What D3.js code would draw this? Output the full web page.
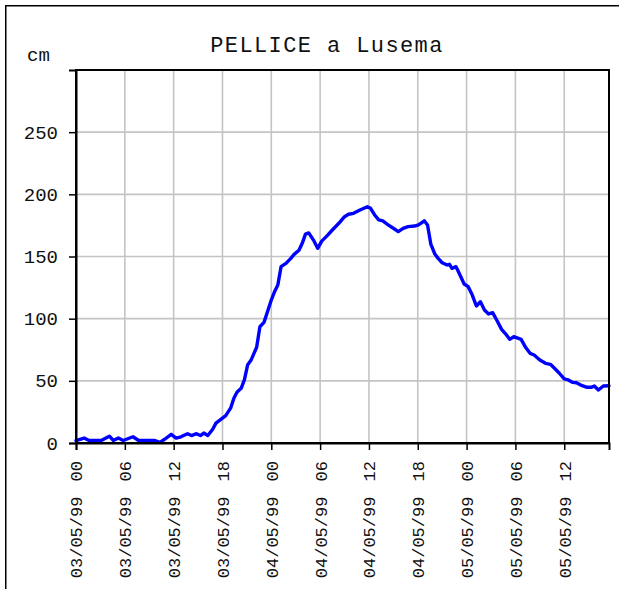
<!DOCTYPE html>
<html>
<head>
<meta charset="utf-8">
<script src="https://cdn.jsdelivr.net/npm/d3@7"></script>
<style>
  body { margin: 0; background: #fff; }
  svg { display: block; }
</style>
</head>
<body>
<svg id="chart" width="619" height="589"></svg>
<script>
// Water level of the Pellice river at Luserna, 3-5 May 1999
const chartTitle = "PELLICE a Lusema";
const unitLabel = "cm";

// hours elapsed since 03/05/99 00:00
const hours = [0, 1, 1.6, 3.1, 4.1, 4.6, 5.2, 5.8, 7.0, 7.7, 9.7, 10.3, 10.9, 11.7, 12.3, 12.9,
  13.7, 14.2, 14.8, 15.3, 15.7, 16.2, 16.8, 17.2, 17.8, 18.4, 19.0, 19.4, 19.8, 20.3, 20.7,
  21.1, 21.5, 22.2, 22.6, 23.1, 23.6, 24.0, 24.4, 24.8, 25.2, 25.8, 26.4, 26.8, 27.4, 27.8,
  28.2, 28.6, 29.2, 29.7, 30.2, 30.9, 31.5, 32.3, 33.0, 33.5, 34.1, 34.9, 35.8, 36.2, 36.7,
  37.2, 37.7, 38.4, 39.0, 39.6, 40.2, 40.8, 41.6, 42.1, 42.8, 43.2, 43.6, 44.1, 44.5, 45.0,
  45.6, 45.9, 46.2, 46.7, 47.0, 47.7, 48.2, 48.7, 49.2, 49.7, 50.2, 50.7, 51.2, 51.7, 52.3,
  52.9, 53.3, 53.8, 54.7, 55.2, 55.8, 56.3, 57.0, 57.7, 58.3, 58.8, 59.4, 60.0, 60.5, 61.0,
  61.5, 62.2, 62.8, 63.3, 63.7, 64.2, 64.8, 65.5];

// level in cm
const levels = [2, 4, 2, 2, 5.5, 2, 4, 2, 5, 2, 2, 0.5, 3, 7, 4, 5,
  7.5, 6, 7.5, 6, 8, 6, 11, 16, 19, 22, 28, 36, 41, 44, 51,
  63, 66.5, 77, 93.5, 97, 107, 115, 121.7, 127, 141.8, 144.5, 148.5, 151.7, 155, 160.6,
  168, 169, 163, 156.6, 162.4, 167, 171.3, 176.7, 182, 184, 184.7, 187.4, 190, 188.8, 183.4,
  179.4, 178.6, 175.3, 172.7, 170, 172.7, 174, 174.5, 175.5, 178.7, 175.3, 160, 152, 148.5, 145,
  143.2, 143.7, 140.5, 141.8, 137.8, 127.9, 125.7, 119, 110.2, 113.6, 107, 103.8, 104.8, 98.9, 91.4,
  86.9, 83.4, 85.5, 83.4, 77.5, 72.1, 70.8, 66.8, 64.1, 63.3, 60.1, 56.1, 51.5, 50.7, 48.8,
  48.5, 46.1, 44.8, 44.8, 45.8, 42.6, 45.8, 46];

const xTickHours = [0, 6, 12, 18, 24, 30, 36, 42, 48, 54, 60];
const xTickLabels = ["03/05/99 00", "03/05/99 06", "03/05/99 12", "03/05/99 18",
  "04/05/99 00", "04/05/99 06", "04/05/99 12", "04/05/99 18",
  "05/05/99 00", "05/05/99 06", "05/05/99 12"];
const yTickValues = [0, 50, 100, 150, 200, 250];

const W = 619, H = 589;
const plot = { left: 76, right: 609, top: 70, bottom: 443 };
const font = "'Liberation Mono', 'DejaVu Sans Mono', monospace";

const svg = d3.select("#chart");

const x = d3.scaleLinear().domain([0, 65.5]).range([plot.left, plot.right]);
const y = d3.scaleLinear().domain([0, 300]).range([plot.bottom, plot.top]);

// outer frame
svg.append("rect")
  .attr("x", 5.75).attr("y", 5.75)
  .attr("width", W + 20).attr("height", H + 20)
  .attr("fill", "none").attr("stroke", "#000").attr("stroke-width", 1.5);

// gridlines
const grid = svg.append("g").attr("stroke", "#c4c4c4").attr("stroke-width", 1.6);
grid.selectAll("line.h").data(yTickValues.filter(v => v > 0)).join("line")
  .attr("x1", plot.left).attr("x2", plot.right)
  .attr("y1", d => y(d)).attr("y2", d => y(d));
grid.selectAll("line.v").data(xTickHours.filter(h => h > 0)).join("line")
  .attr("y1", plot.top).attr("y2", plot.bottom)
  .attr("x1", d => x(d)).attr("x2", d => x(d));

// series line
const line = d3.line()
  .x((d, i) => x(hours[i]))
  .y(d => y(d));
svg.append("path")
  .datum(levels)
  .attr("d", line)
  .attr("fill", "none")
  .attr("stroke", "#0000ff")
  .attr("stroke-width", 3.4)
  .attr("stroke-linejoin", "round")
  .attr("stroke-linecap", "round");

// plot border
svg.append("rect")
  .attr("x", plot.left).attr("y", plot.top)
  .attr("width", plot.right - plot.left).attr("height", plot.bottom - plot.top)
  .attr("fill", "none").attr("stroke", "#000").attr("stroke-width", 2);

// y axis
const yAxis = svg.append("g")
  .attr("transform", `translate(${plot.left},0)`)
  .call(d3.axisLeft(y).tickValues(yTickValues).tickSize(7).tickPadding(11).tickFormat(d3.format("d")));
yAxis.select(".domain").attr("stroke-width", 2);
yAxis.selectAll(".tick line").attr("stroke-width", 1.5);
yAxis.selectAll("text")
  .attr("font-family", font).attr("font-size", 19).attr("fill", "#111");

// x axis: rotated "date hour" labels
const xAxis = svg.append("g")
  .attr("transform", `translate(0,${plot.bottom})`)
  .call(d3.axisBottom(x).tickValues(xTickHours).tickSize(7)
    .tickFormat((d, i) => xTickLabels[i]));
xAxis.select(".domain").attr("stroke-width", 2);
xAxis.selectAll(".tick line").attr("stroke-width", 1.5);
xAxis.selectAll("text")
  .attr("font-family", font).attr("font-size", 17).attr("fill", "#111")
  .style("white-space", "pre")
  .style("word-spacing", "5px")
  .attr("text-anchor", "end")
  .attr("transform", "rotate(-90)")
  .attr("x", -18).attr("y", 0).attr("dy", "0.35em");

// unit label
svg.append("text")
  .attr("x", 27).attr("y", 61)
  .attr("font-family", font).attr("font-size", 19).attr("fill", "#111")
  .text(unitLabel);

// title
svg.append("text")
  .attr("x", 327).attr("y", 52)
  .attr("text-anchor", "middle")
  .attr("font-family", font).attr("font-size", 22).attr("letter-spacing", 1.4)
  .attr("fill", "#111")
  .text(chartTitle);
</script>
</body>
</html>
